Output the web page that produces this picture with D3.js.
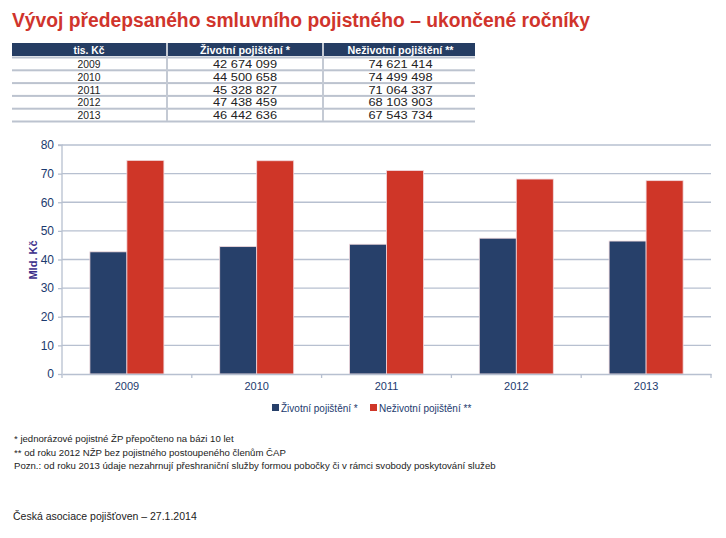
<!DOCTYPE html>
<html><head><meta charset="utf-8">
<script src="https://cdn.jsdelivr.net/npm/d3@7"></script>
<style>body{margin:0;background:#fff}svg{display:block}</style>
</head><body>
<script>
const years = ["2009","2010","2011","2012","2013"];
const zivotni = [42674099, 44500658, 45328827, 47438459, 46442636];
const nezivotni = [74621414, 74499498, 71064337, 68103903, 67543734];
const seriesNames = ["Životní pojištění *", "Neživotní pojištění **"];
const tableHeader = ["tis. Kč", "Životní pojištění *", "Neživotní pojištění **"];
const yTicks = [0,10,20,30,40,50,60,70,80];
const footnotes = ["* jednorázové pojistné ŽP přepočteno na bázi 10 let",
  "** od roku 2012 NŽP bez pojistného postoupeného členům ČAP",
  "Pozn.: od roku 2013 údaje nezahrnují přeshraniční služby formou pobočky či v rámci svobody poskytování služeb"];
const source = "Česká asociace pojišťoven – 27.1.2014";
const title = "Vývoj předepsaného smluvního pojistného – ukončené ročníky";

const W=726,H=538;
const navy="#27406a", red="#cf3628", grid="#b7c0d0";
const svg=d3.select("body").append("svg").attr("width",W).attr("height",H);
const font="Liberation Sans, Arial, sans-serif";
const fmt = v => d3.format(",")(v).replace(/,/g," ");

// title
svg.append("text").attr("x",12).attr("y",27).attr("fill","#d0342c")
  .attr("font-family",font).attr("font-size",20).attr("font-weight","bold")
  .attr("textLength",578).attr("lengthAdjust","spacingAndGlyphs").text(title);

// table
const tx=12, colW=[154,154,153], gap=2;
const colX=[tx, tx+colW[0]+gap, tx+colW[0]+colW[1]+2*gap];
svg.append("rect").attr("x",tx).attr("y",43).attr("width",463).attr("height",13).attr("fill","#253d63");
tableHeader.forEach((h,i)=>{
  svg.append("text").attr("x",colX[i]+colW[i]/2).attr("y",53.5).attr("text-anchor","middle")
    .attr("fill","#fff").attr("font-family",font).attr("font-size",10.5).attr("font-weight","bold")
    .attr("textLength",i==0?31:(i==1?90:106)).attr("lengthAdjust","spacingAndGlyphs").text(h);
});
const rowY = d3.scaleBand().domain(years).range([58,122]);
years.forEach((y,i)=>{
  const yy=rowY(y);
  svg.append("rect").attr("x",tx).attr("y",yy-1.5).attr("width",463).attr("height",2).attr("fill","#bcc3cf");
  const vals=[y, fmt(zivotni[i]), fmt(nezivotni[i])];
  vals.forEach((v,j)=>{
    svg.append("text").attr("x",colX[j]+colW[j]/2).attr("y",yy+10).attr("text-anchor","middle")
      .attr("fill","#222").attr("font-family",font).attr("font-size",11.5)
      .attr("textLength",j==0?23:64).attr("lengthAdjust","spacingAndGlyphs").text(v);
  });
});
svg.append("rect").attr("x",tx).attr("y",120.5).attr("width",463).attr("height",2).attr("fill","#bcc3cf");
[1,2].forEach(j=>{
  svg.append("rect").attr("x",colX[j]-gap).attr("y",43).attr("width",gap).attr("height",78).attr("fill","#c4cad4");
});

// chart
const x0=62, x1=711, yTop=145, yBot=374;
const x = d3.scaleBand().domain(years).range([x0,x1]).paddingInner(0.43).paddingOuter(0.215);
const xs = d3.scaleBand().domain([0,1]).range([0,x.bandwidth()]);
const y = d3.scaleLinear().domain([0,80]).range([yBot,yTop]);

const g=svg.append("g");
g.selectAll(".gl").data(yTicks.slice(1)).join("line")
  .attr("x1",x0).attr("x2",x1).attr("y1",d=>y(d)).attr("y2",d=>y(d))
  .attr("stroke",grid).attr("stroke-width",1.3);
const data=[zivotni,nezivotni];
data.forEach((arr,si)=>{
  g.selectAll(".b"+si).data(arr).join("rect")
    .attr("x",(d,i)=>x(years[i])+xs(si)).attr("width",xs.bandwidth())
    .attr("y",d=>y(d/1e6)).attr("height",d=>yBot-y(d/1e6))
    .attr("fill",si?red:navy).attr("stroke","#f0d8dc").attr("stroke-width",0.8);
});
const ya=svg.append("g").attr("transform",`translate(${x0},0)`)
  .call(d3.axisLeft(y).tickValues(yTicks).tickSize(4).tickPadding(4));
ya.select(".domain").attr("stroke",grid).attr("stroke-width",1.3).attr("d",`M-4,${yTop}H0V${yBot}`);
ya.selectAll(".tick line").attr("stroke",grid).attr("stroke-width",1.3);
ya.selectAll("text").attr("font-family",font).attr("font-size",12).attr("fill","#1c3a6e");
const xa=svg.append("g").attr("transform",`translate(0,${yBot})`)
  .call(d3.axisBottom(x).tickSize(0).tickPadding(8));
xa.select(".domain").attr("stroke",grid).attr("stroke-width",1.3);
xa.selectAll("text").attr("font-family",font).attr("font-size",11).attr("fill","#1c3a6e");
xa.selectAll(".sep").data(d3.range(years.length+1)).join("line")
  .attr("x1",i=>x0+i*(x1-x0)/years.length).attr("x2",i=>x0+i*(x1-x0)/years.length)
  .attr("y1",0).attr("y2",4).attr("stroke",grid).attr("stroke-width",1.3);
svg.append("text").attr("transform","translate(37,260) rotate(-90)").attr("text-anchor","middle")
  .attr("font-family",font).attr("font-size",11).attr("font-weight","bold").attr("fill","#3b2e8a").text("Mld. Kč");

// legend
const leg=[{x:272,c:navy,t:seriesNames[0]},{x:370,c:red,t:seriesNames[1]}];
leg.forEach(l=>{
  svg.append("rect").attr("x",l.x).attr("y",404).attr("width",7).attr("height",7).attr("fill",l.c);
  svg.append("text").attr("x",l.x+9).attr("y",411.5).attr("font-family",font).attr("font-size",10)
    .attr("fill","#1c3a6e").text(l.t);
});

// footnotes
footnotes.forEach((f,i)=>{
  svg.append("text").attr("x",14).attr("y",442+i*13.5).attr("font-family",font).attr("font-size",9.6)
    .attr("fill","#222").text(f);
});
svg.append("text").attr("x",13).attr("y",520).attr("font-family",font).attr("font-size",10.5)
  .attr("fill","#222").text(source);
</script>
</body></html>
